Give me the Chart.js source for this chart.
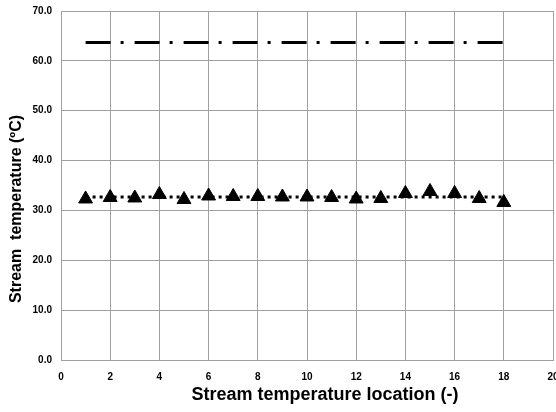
<!DOCTYPE html>
<html>
<head>
<meta charset="UTF-8">
<title>Stream temperature</title>
<script src="https://cdn.jsdelivr.net/npm/chart.js"></script>
<style>
    body { margin: 0; background: #fff; }
    #wrap { width: 556px; height: 412px; }
</style>
</head>
<body>
<div id="wrap"><canvas id="chart" width="556" height="412"></canvas></div>
<script>
    const locations = [1, 2, 3, 4, 5, 6, 7, 8, 9, 10, 11, 12, 13, 14, 15, 16, 17, 18];
    const upperLine = [63.7, 63.7, 63.7, 63.7, 63.7, 63.7, 63.7, 63.7, 63.7, 63.7, 63.7, 63.7, 63.7, 63.7, 63.7, 63.7, 63.7, 63.7];
    const measured = [32.3, 32.6, 32.5, 33.2, 32.2, 32.9, 32.8, 32.8, 32.7, 32.7, 32.6, 32.3, 32.4, 33.4, 33.8, 33.4, 32.4, 31.6];
    const meanLine = [32.7, 32.7, 32.7, 32.7, 32.7, 32.7, 32.7, 32.7, 32.7, 32.7, 32.7, 32.7, 32.7, 32.7, 32.7, 32.7, 32.7, 32.7];
    const xTitle = 'Stream temperature location (-)';
    const yTitle = 'Stream  temperature (ºC)';

    const xy = (vals) => locations.map((x, i) => ({ x: x, y: vals[i] }));
    const tickFont = { family: 'Arial, "Liberation Sans"', size: 10, weight: 'bold' };
    const noPadding = () => ({ left: 0, top: 0, right: 0, bottom: 0 });

    // the "20" label is clipped at the right edge in the original, so stretch the plot area
    const stretchRight = {
        id: 'stretchRight',
        afterLayout(chart) {
            const area = chart.chartArea;
            area.right = chart.width - 3;
            area.width = area.right - area.left;
            const x = chart.scales.x;
            x.right = area.right;
            x.width = area.width;
            x.configure();
        }
    };

    // axis titles sit a bit off-centre in the original, so draw them by hand
    const axisTitles = {
        id: 'axisTitles',
        afterDraw(chart) {
            const ctx = chart.ctx;
            ctx.save();
            ctx.fillStyle = '#000';
            ctx.textAlign = 'center';
            ctx.textBaseline = 'middle';
            ctx.font = 'bold 18px Arial, "Liberation Sans"';
            ctx.fillText(xTitle, 325, 395);
            ctx.translate(17, 209);
            ctx.rotate(-Math.PI / 2);
            ctx.font = 'bold 16px Arial, "Liberation Sans"';
            ctx.fillText(yTitle, 0, 0);
            ctx.restore();
        }
    };

    new Chart(document.getElementById('chart'), {
        type: 'scatter',
        data: {
            datasets: [{
                data: xy(upperLine),
                showLine: true,
                borderColor: '#000',
                borderWidth: 3,
                borderDash: [25, 10, 3, 11],
                pointRadius: 0
            }, {
                data: xy(meanLine),
                showLine: true,
                borderColor: '#000',
                borderWidth: 3,
                borderDash: [3, 4],
                pointRadius: 0
            }, {
                data: xy(measured),
                pointStyle: 'triangle',
                pointRadius: 8,
                backgroundColor: '#000',
                borderColor: '#000',
                borderWidth: 1
            }]
        },
        options: {
            responsive: false,
            animation: false,
            layout: { padding: { top: 11, right: 3, left: 4, bottom: 0 } },
            plugins: { legend: { display: false }, tooltip: { enabled: false } },
            scales: {
                x: {
                    type: 'linear',
                    min: 0, max: 20,
                    ticks: { stepSize: 2, font: tickFont, color: '#000', padding: 11, maxRotation: 0 },
                    grid: { color: '#a0a0a0', lineWidth: 1, drawTicks: false },
                    border: { color: '#a0a0a0' },
                    afterFit: (s) => {
                        s.height = 52;
                        s.paddingLeft = 0;
                        s.paddingRight = 0;
                        s.getPadding = noPadding;
                    }
                },
                y: {
                    min: 0, max: 70,
                    ticks: { stepSize: 10, font: tickFont, color: '#000', padding: 9, callback: (v) => v.toFixed(1) },
                    grid: { color: '#a0a0a0', lineWidth: 1, drawTicks: false },
                    border: { color: '#a0a0a0' },
                    afterFit: (s) => {
                        s.width = 57;
                        s.paddingTop = 0;
                        s.paddingBottom = 0;
                        s.getPadding = noPadding;
                    }
                }
            }
        },
        plugins: [stretchRight, axisTitles]
    });
</script>
</body>
</html>
